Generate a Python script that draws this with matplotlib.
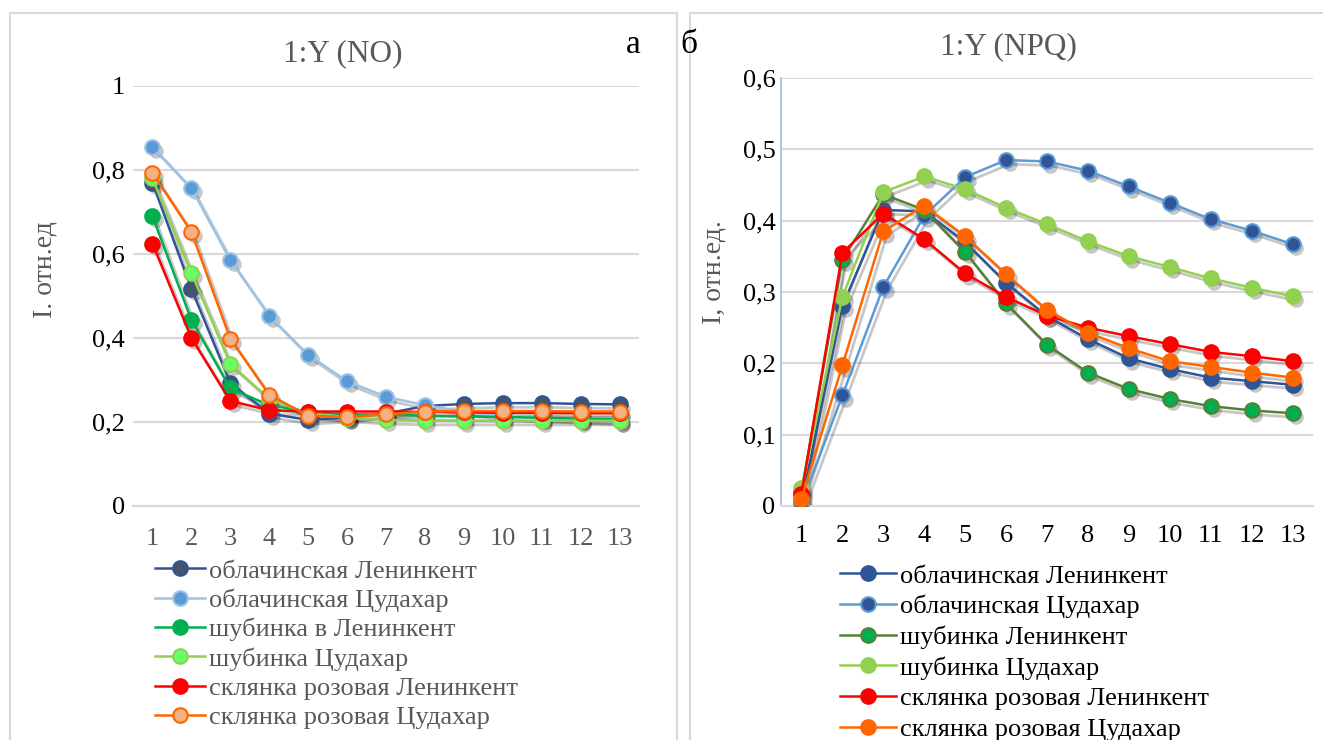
import numpy as np
import matplotlib
matplotlib.use("Agg")
import matplotlib.pyplot as plt
import matplotlib.transforms as mtransforms
from matplotlib.patches import Rectangle
from matplotlib.ticker import FuncFormatter

plt.rcParams['font.family'] = ['Liberation Serif', 'DejaVu Serif']

# данные
x = list(range(1, 14))
labels_no = ["облачинская Ленинкент", "облачинская Цудахар", "шубинка в Ленинкент",
             "шубинка Цудахар", "склянка розовая Ленинкент", "склянка розовая Цудахар"]
labels_npq = ["облачинская Ленинкент", "облачинская Цудахар", "шубинка Ленинкент",
              "шубинка Цудахар", "склянка розовая Ленинкент", "склянка розовая Цудахар"]

# 1:Y (NO)
no_obl_len = [0.77, 0.517, 0.293, 0.22, 0.205, 0.21, 0.22, 0.238, 0.243, 0.245, 0.245, 0.243, 0.242]
no_obl_cud = [0.855, 0.757, 0.585, 0.453, 0.36, 0.297, 0.26, 0.24, 0.225, 0.215, 0.21, 0.207, 0.203]
no_shub_len = [0.69, 0.443, 0.28, 0.24, 0.225, 0.218, 0.218, 0.215, 0.213, 0.212, 0.21, 0.208, 0.207]
no_shub_cud = [0.78, 0.555, 0.338, 0.255, 0.22, 0.21, 0.205, 0.203, 0.203, 0.203, 0.203, 0.203, 0.203]
no_skl_len = [0.625, 0.40, 0.25, 0.228, 0.225, 0.225, 0.225, 0.224, 0.223, 0.222, 0.222, 0.221, 0.221]
no_skl_cud = [0.793, 0.653, 0.398, 0.265, 0.215, 0.212, 0.218, 0.225, 0.226, 0.226, 0.226, 0.225, 0.225]

# 1:Y (NPQ)
npq_obl_len = [0.005, 0.28, 0.415, 0.413, 0.37, 0.313, 0.266, 0.234, 0.207, 0.192, 0.18, 0.175, 0.17]
npq_obl_cud = [0.003, 0.155, 0.307, 0.407, 0.461, 0.485, 0.483, 0.47, 0.448, 0.425, 0.402, 0.386, 0.367]
npq_shub_len = [0.02, 0.345, 0.437, 0.415, 0.356, 0.284, 0.226, 0.187, 0.164, 0.15, 0.14, 0.134, 0.13]
npq_shub_cud = [0.025, 0.293, 0.44, 0.462, 0.444, 0.418, 0.395, 0.371, 0.35, 0.335, 0.319, 0.306, 0.294]
npq_skl_len = [0.017, 0.355, 0.41, 0.374, 0.326, 0.293, 0.267, 0.25, 0.238, 0.227, 0.216, 0.21, 0.203]
npq_skl_cud = [0.01, 0.197, 0.385, 0.421, 0.378, 0.325, 0.275, 0.243, 0.221, 0.203, 0.195, 0.187, 0.18]

# стили: (линия, заливка маркера, край маркера)
styles_no = [("#2F5597", "#44546A", "#2F5597"),
             ("#9DC3E6", "#5B9BD5", "#9DC3E6"),
             ("#00B050", "#00B050", "#00B050"),
             ("#92D050", "#66FF66", "#92D050"),
             ("#FF0000", "#FF0000", "#FF0000"),
             ("#FF6600", "#F4B183", "#FF6600")]
styles_npq = [("#2F5597", "#2F5597", "#2F5597"),
              ("#5B9BD5", "#2F5597", "#5B9BD5"),
              ("#548235", "#00B050", "#548235"),
              ("#92D050", "#92D050", "#92D050"),
              ("#FF0000", "#FF0000", "#FF0000"),
              ("#FF6600", "#FF6600", "#FF6600")]

fig = plt.figure(figsize=(13.23, 7.4), dpi=100)
W, H = 1323, 740

def fx(px):
    return px / W

def fy(py):
    return 1 - py / H

# рамки двух диаграмм
fig.patches.append(Rectangle((fx(10), fy(760)), fx(667), (760 - 13) / H, transform=fig.transFigure,
                             fill=False, edgecolor="#D9D9D9", linewidth=1.5))
fig.patches.append(Rectangle((fx(690), fy(760)), fx(700), (760 - 13) / H, transform=fig.transFigure,
                             fill=False, edgecolor="#D9D9D9", linewidth=1.5))

ax1 = fig.add_axes([fx(133), fy(506), fx(639 - 133), (506 - 86) / H])
ax2 = fig.add_axes([fx(781), fy(506), fx(1313 - 781), (506 - 78) / H])

def comma(v, pos):
    s = ("%.1f" % v).rstrip("0").rstrip(".")
    return s.replace(".", ",")

shadow = mtransforms.ScaledTranslation(2.5 / 72, -3 / 72, fig.dpi_scale_trans)

def draw(ax, series, styles, labels):
    handles = []
    for y, (lc, fc, ec), lab in zip(series, styles, labels):
        ax.plot(x, y, transform=ax.transData + shadow, color="black", alpha=0.22,
                lw=2, marker="o", ms=10.5, mec="none", zorder=2)
        h, = ax.plot(x, y, color=lc, lw=1.8, marker="o", ms=10.5, mfc=fc, mec=ec,
                     mew=1.5, label=lab, zorder=3)
        handles.append(h)
    ax.set_xlim(0.5, 13.5)
    ax.set_xticks(x)
    ax.yaxis.set_major_formatter(FuncFormatter(comma))
    ax.grid(axis="y", color="#D9D9D9", lw=1.5)
    ax.set_axisbelow(True)
    for s in ["top", "right", "left"]:
        ax.spines[s].set_visible(False)
    ax.spines["bottom"].set_color("#D9D9D9")
    ax.spines["bottom"].set_linewidth(1.5)
    ax.tick_params(length=0, labelsize=19)
    return handles

h1 = draw(ax1, [no_obl_len, no_obl_cud, no_shub_len, no_shub_cud, no_skl_len, no_skl_cud],
          styles_no, labels_no)
ax1.set_ylim(0, 1)
ax1.set_yticks(np.arange(0, 1.01, 0.2))
ax1.tick_params(axis="x", labelcolor="#595959", pad=16)
ax1.tick_params(axis="y", pad=6)

h2 = draw(ax2, [npq_obl_len, npq_obl_cud, npq_shub_len, npq_shub_cud, npq_skl_len, npq_skl_cud],
          styles_npq, labels_npq)
ax2.set_ylim(0, 0.6)
ax2.set_yticks(np.arange(0, 0.61, 0.1))
ax2.spines["left"].set_visible(True)
ax2.spines["left"].set_color("#B4C7E7")
ax2.spines["left"].set_linewidth(1.5)
ax2.tick_params(axis="x", pad=14)
ax2.tick_params(axis="y", pad=4)

# подписи осей и заголовки
fig.text(fx(45), fy(270), "I. отн.ед", color="#595959", fontsize=20, rotation=90,
         ha="center", va="center")
fig.text(fx(714), fy(272), "I, отн.ед.", color="#595959", fontsize=20, rotation=90,
         ha="center", va="center")
fig.text(fx(343), fy(54), "1:Y (NO)", color="#595959", fontsize=22.5, ha="center", va="center")
fig.text(fx(1008), fy(47), "1:Y (NPQ)", color="#595959", fontsize=22.5, ha="center", va="center")

leg1 = fig.legend(handles=h1, loc="upper left", bbox_to_anchor=(fx(142), fy(546)),
                  frameon=False, fontsize=19, handlelength=1.9, handletextpad=0.15,
                  labelspacing=0.22, borderpad=0)
for t in leg1.get_texts():
    t.set_color("#595959")
leg2 = fig.legend(handles=h2, loc="upper left", bbox_to_anchor=(fx(827), fy(551)),
                  frameon=False, fontsize=19, handlelength=2.1, handletextpad=0.15,
                  labelspacing=0.27, borderpad=0)

fig.text(fx(633), fy(45), "а", fontsize=24, ha="center", va="center")
fig.text(fx(689), fy(45), "б", fontsize=24, ha="center", va="center")

fig.savefig("out.png", dpi=100)
